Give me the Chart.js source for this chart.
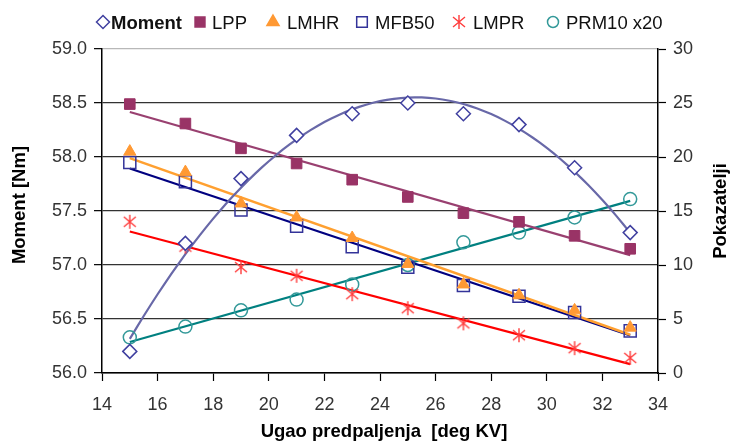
<!DOCTYPE html>
<html>
<head>
<meta charset="utf-8">
<style>
  html, body { margin: 0; padding: 0; background: #fff; }
</style>
<script src="https://cdn.jsdelivr.net/npm/chart.js@4.4.1/dist/chart.umd.min.js"></script>
</head>
<body>
<canvas id="myChart" width="732" height="441"></canvas>
<script>
// data
const angles = [15, 17, 19, 21, 23, 25, 27, 29, 31, 33];
const moment = [56.2, 57.2, 57.8, 58.2, 58.4, 58.5, 58.4, 58.3, 57.9, 57.3];
const lpp = [24.9, 23.1, 20.8, 19.4, 17.9, 16.3, 14.8, 14.0, 12.7, 11.5];
const lmhr = [20.5, 18.6, 15.7, 14.4, 12.5, 10.1, 8.2, 7.2, 5.8, 4.2];
const mfb50 = [19.5, 17.7, 15.1, 13.6, 11.7, 9.8, 8.1, 7.1, 5.6, 3.9];
const lmpr = [14.0, 11.7, 9.8, 9.0, 7.3, 6.0, 4.6, 3.5, 2.3, 1.4];
const prm10 = [3.3, 4.3, 5.8, 6.8, 8.2, 10.0, 12.1, 13.0, 14.4, 16.1];

const xTicks = [14, 16, 18, 20, 22, 24, 26, 28, 30, 32, 34];
const momentTicks = [56.0, 56.5, 57.0, 57.5, 58.0, 58.5, 59.0];
const pokTicks = [0, 5, 10, 15, 20, 25, 30];

const FONT = "'Liberation Sans', Arial, sans-serif";

// least squares trend lines (linear / quadratic), like the spreadsheet trendlines
function linFit(xs, ys) {
  const n = xs.length;
  const mx = xs.reduce((a, b) => a + b, 0) / n;
  const my = ys.reduce((a, b) => a + b, 0) / n;
  let sxy = 0, sxx = 0;
  for (let i = 0; i < n; i++) { sxy += (xs[i] - mx) * (ys[i] - my); sxx += (xs[i] - mx) ** 2; }
  const k = sxy / sxx;
  const x0 = xs[0], x1 = xs[n - 1];
  return [{ x: x0, y: my + k * (x0 - mx) }, { x: x1, y: my + k * (x1 - mx) }];
}

function quadFit(xs, ys) {
  const n = xs.length;
  const mx = xs.reduce((a, b) => a + b, 0) / n;
  let s2 = 0, s3 = 0, s4 = 0, sy = 0, sty = 0, st2y = 0, s1 = 0;
  for (let i = 0; i < n; i++) {
    const t = xs[i] - mx;
    s1 += t; s2 += t * t; s3 += t ** 3; s4 += t ** 4;
    sy += ys[i]; sty += t * ys[i]; st2y += t * t * ys[i];
  }
  // solve 3x3 normal equations
  const M = [[n, s1, s2, sy], [s1, s2, s3, sty], [s2, s3, s4, st2y]];
  for (let c = 0; c < 3; c++) {
    for (let r = c + 1; r < 3; r++) {
      const f = M[r][c] / M[c][c];
      for (let k = c; k < 4; k++) M[r][k] -= f * M[c][k];
    }
  }
  const co = [0, 0, 0];
  for (let r = 2; r >= 0; r--) {
    let v = M[r][3];
    for (let k = r + 1; k < 3; k++) v -= M[r][k] * co[k];
    co[r] = v / M[r][r];
  }
  const pts = [];
  for (let x = xs[0]; x <= xs[n - 1] + 1e-9; x += 0.25) {
    const t = x - mx;
    pts.push({ x: x, y: co[0] + co[1] * t + co[2] * t * t });
  }
  return pts;
}

function pairs(ys) { return angles.map((x, i) => ({ x: x, y: ys[i] })); }

// asterisk marker (vertical bar + X)
function makeAsterisk(color) {
  const c = document.createElement('canvas');
  c.width = 16; c.height = 16;
  const g = c.getContext('2d');
  g.strokeStyle = color; g.lineWidth = 1.4;
  g.beginPath();
  g.moveTo(8, 1); g.lineTo(8, 15);
  g.moveTo(2, 3); g.lineTo(14, 13);
  g.moveTo(14, 3); g.lineTo(2, 13);
  g.stroke();
  return c;
}
const asterisk = makeAsterisk('#ff3c3c');

const legendItems = [
  { label: 'Moment', bold: true, mx: 103, tx: 111, style: 'rectRot', r: 6.5, fill: '#fff', stroke: '#4040a0' },
  { label: 'LPP', mx: 200, tx: 212, style: 'rect', r: 7, fill: '#993366', stroke: '#993366' },
  { label: 'LMHR', mx: 273, tx: 287, style: 'triangle', r: 7, fill: '#ff9933', stroke: '#ff9933' },
  { label: 'MFB50', mx: 362, tx: 375, style: 'rect', r: 7.5, fill: '#fff', stroke: '#333399' },
  { label: 'LMPR', mx: 459, tx: 473, style: asterisk, r: 7 },
  { label: 'PRM10 x20', mx: 553, tx: 566, style: 'circle', r: 5.5, fill: '#fff', stroke: '#339999' }
];

const decorPlugin = {
  id: 'decor',
  afterDraw(chart) {
    const ctx = chart.ctx;
    const a = chart.chartArea;
    ctx.save();
    // legend
    legendItems.forEach(it => {
      if (typeof it.style === 'string') {
        ctx.fillStyle = it.fill;
        ctx.strokeStyle = it.stroke;
        ctx.lineWidth = 1.5;
        Chart.helpers.drawPoint(ctx, { pointStyle: it.style, radius: it.r, rotation: 0, borderWidth: 1.5 }, it.mx, 22);
      } else {
        ctx.drawImage(it.style, it.mx - 8, 22 - 8);
      }
      ctx.fillStyle = '#111';
      ctx.font = (it.bold ? 'bold ' : '') + '18.5px ' + FONT;
      ctx.textAlign = 'left';
      ctx.textBaseline = 'alphabetic';
      ctx.fillText(it.label, it.tx, 28.5);
    });
    // axis titles
    ctx.fillStyle = '#000';
    ctx.font = 'bold 18.5px ' + FONT;
    ctx.textAlign = 'center';
    ctx.textBaseline = 'alphabetic';
    ctx.fillText('Ugao predpaljenja  [deg KV]', (a.left + a.right) / 2 + 4, 437);
    ctx.textBaseline = 'middle';
    ctx.save();
    ctx.translate(20, (a.top + a.bottom) / 2 - 6);
    ctx.rotate(-Math.PI / 2);
    ctx.fillText('Moment [Nm]', 0, 0);
    ctx.restore();
    ctx.save();
    ctx.translate(721, (a.top + a.bottom) / 2);
    ctx.rotate(-Math.PI / 2);
    ctx.fillText('Pokazatelji', 0, 0);
    ctx.restore();
    ctx.restore();
  }
};

const tickFont = { family: FONT, size: 18 };

new Chart(document.getElementById('myChart').getContext('2d'), {
  data: {
    datasets: [
      { type: 'scatter', label: 'Moment', data: pairs(moment), yAxisID: 'y', order: 0,
        pointStyle: 'rectRot', pointRadius: 7, pointBackgroundColor: '#fff', pointBorderColor: '#4040a0', pointBorderWidth: 1.5 },
      { type: 'scatter', label: 'LPP', data: pairs(lpp), yAxisID: 'y2', order: 0,
        pointStyle: 'rect', pointRadius: 7.5, pointBackgroundColor: '#993366', pointBorderColor: '#993366', pointBorderWidth: 1 },
      { type: 'scatter', label: 'LMHR', data: pairs(lmhr), yAxisID: 'y2', order: 0,
        pointStyle: 'triangle', pointRadius: 7, pointBackgroundColor: '#ff9933', pointBorderColor: '#ff9933', pointBorderWidth: 1 },
      { type: 'scatter', label: 'MFB50', data: pairs(mfb50), yAxisID: 'y2', order: 0,
        pointStyle: 'rect', pointRadius: 8.5, pointBackgroundColor: 'rgba(255,255,255,0)', pointBorderColor: '#333399', pointBorderWidth: 1.5 },
      { type: 'scatter', label: 'LMPR', data: pairs(lmpr), yAxisID: 'y2', order: 0,
        pointStyle: asterisk, pointRadius: 8 },
      { type: 'scatter', label: 'PRM10 x20', data: pairs(prm10), yAxisID: 'y2', order: 0,
        pointStyle: 'circle', pointRadius: 6.5, pointBackgroundColor: 'rgba(255,255,255,0)', pointBorderColor: '#339999', pointBorderWidth: 1.5 },

      { type: 'line', data: quadFit(angles, moment), yAxisID: 'y', order: 1, borderColor: '#6868a8', borderWidth: 2.2, pointRadius: 0 },
      { type: 'line', data: linFit(angles, lpp), yAxisID: 'y2', order: 1, borderColor: '#994070', borderWidth: 2.2, pointRadius: 0 },
      { type: 'line', data: linFit(angles, lmhr), yAxisID: 'y2', order: 1, borderColor: '#ffa030', borderWidth: 2.5, pointRadius: 0 },
      { type: 'line', data: linFit(angles, mfb50), yAxisID: 'y2', order: 1, borderColor: '#000080', borderWidth: 2.2, pointRadius: 0 },
      { type: 'line', data: linFit(angles, lmpr), yAxisID: 'y2', order: 1, borderColor: '#ff0000', borderWidth: 2.2, pointRadius: 0 },
      { type: 'line', data: linFit(angles, prm10), yAxisID: 'y2', order: 1, borderColor: '#008080', borderWidth: 2.2, pointRadius: 0 }
    ]
  },
  options: {
    responsive: false,
    animation: false,
    layout: { padding: { top: 49 } },
    plugins: { legend: { display: false }, tooltip: { enabled: false } },
    scales: {
      x: {
        type: 'linear', position: 'bottom', min: 14, max: 34,
        afterBuildTicks: s => { s.ticks = xTicks.map(v => ({ value: v })); },
        afterFit: s => { s.height = 68; },
        ticks: { font: tickFont, color: '#333', padding: 13, maxRotation: 0, autoSkip: false },
        grid: { drawOnChartArea: false, tickLength: 8, tickColor: '#000', tickWidth: 1.2 },
        border: { color: '#000', width: 1.5 }
      },
      y: {
        type: 'linear', position: 'left', min: 56, max: 59,
        afterBuildTicks: s => { s.ticks = momentTicks.map(v => ({ value: v })); },
        afterFit: s => { s.width = 102; },
        ticks: { font: tickFont, color: '#333', padding: 7, callback: v => v.toFixed(1) },
        grid: {
          tickLength: 8, tickColor: '#000', tickWidth: 1.2, lineWidth: 1.3,
          color: c => (c.tick && c.tick.value === 59) ? '#b8b8b8' : '#333'
        },
        border: { color: '#000', width: 1.5 }
      },
      y2: {
        type: 'linear', position: 'right', min: 0, max: 30,
        afterBuildTicks: s => { s.ticks = pokTicks.map(v => ({ value: v })); },
        afterFit: s => { s.width = 74; },
        ticks: { font: tickFont, color: '#333', padding: 7 },
        grid: { drawOnChartArea: false, tickLength: 8, tickColor: '#000', tickWidth: 1.2 },
        border: { color: '#000', width: 1.5 }
      }
    }
  },
  plugins: [decorPlugin]
});
</script>
</body>
</html>
